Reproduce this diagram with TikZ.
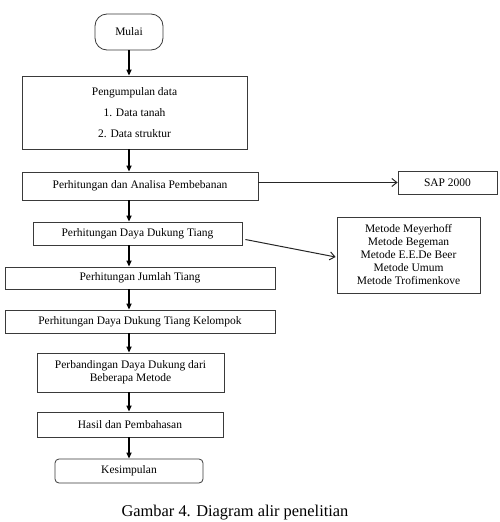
\documentclass[tikz,border=0pt]{standalone}
\usepackage{fontspec}
\setmainfont{Liberation Serif}
\usetikzlibrary{arrows.meta, positioning, calc}
\definecolor{edge}{HTML}{3A3A3A}
\tikzset{
  block/.style={rectangle, draw=edge, line width=0.8pt, fill=white,
                align=center, inner sep=0pt,
                font=\fontsize{11.5}{13}\selectfont},
  terminal/.style={block, rounded corners=12pt},
  endbox/.style={block, rounded corners=4pt},
  flow/.style={-{Triangle[length=6pt,width=5pt]}, line width=2pt, draw=black},
  side/.style={-{Straight Barb[length=5pt,width=8pt]}, line width=1pt, draw=black!85},
}

\begin{document}
\begin{tikzpicture}[x=1pt, y=-1pt]   %% one unit = one pixel of the page

  \useasboundingbox (0,0) rectangle (499,522);

  %% ── Main column ──────────────────────────────────────────────────────────
  \node[terminal, minimum width=68pt,  minimum height=36pt] (mulai)    at (129,32)    {Mulai};
  \node[block,    minimum width=225pt, minimum height=73pt,
        font=\fontsize{11.5}{21}\selectfont]               (data)     at (134.5,112.5) {Pengumpulan data\\1. Data tanah\\2. Data struktur};
  \node[block,    minimum width=236pt, minimum height=28pt] (beban)    at (140,186)   {Perhitungan dan Analisa Pembebanan};
  \node[block,    minimum width=209pt, minimum height=23pt] (daya)     at (137.5,233.5) {Perhitungan Daya Dukung Tiang};
  \node[block,    minimum width=270pt, minimum height=22pt] (jumlah)   at (140,278)   {Perhitungan Jumlah Tiang};
  \node[block,    minimum width=270pt, minimum height=23pt] (kelompok) at (140,321.5) {Perhitungan Daya Dukung Tiang Kelompok};
  \node[block,    minimum width=187pt, minimum height=39pt] (banding)  at (130.5,372.5) {Perbandingan Daya Dukung dari\\Beberapa Metode};
  \node[block,    minimum width=186pt, minimum height=25pt] (hasil)    at (130,424.5) {Hasil dan Pembahasan};
  \node[endbox,   minimum width=148pt, minimum height=24pt] (simpul)   at (129,471)   {Kesimpulan};

  %% ── Side boxes ───────────────────────────────────────────────────────────
  \node[block, minimum width=99pt,  minimum height=23pt] (sap)    at (447.5,182.5) {SAP 2000};
  \node[block, minimum width=143pt, minimum height=76pt] (metode) at (408.5,255)
       {Metode Meyerhoff\\Metode Begeman\\Metode E.E.De Beer\\Metode Umum\\Metode Trofimenkove};

  %% ── Flow arrows (all on the x of Mulai) ──────────────────────────────────
  \draw[flow] (mulai) -- (mulai |- data.north);
  \draw[flow] (data.south -| mulai)     -- (mulai |- beban.north);
  \draw[flow] (beban.south -| mulai)    -- (mulai |- daya.north);
  \draw[flow] (daya.south -| mulai)     -- (mulai |- jumlah.north);
  \draw[flow] (jumlah.south -| mulai)   -- (mulai |- kelompok.north);
  \draw[flow] (kelompok.south -| mulai) -- (mulai |- banding.north);
  \draw[flow] (banding.south -| mulai)  -- (mulai |- hasil.north);
  \draw[flow] (hasil.south -| mulai)    -- (simpul);

  %% ── Side arrows ──────────────────────────────────────────────────────────
  \draw[side] (sap.west -| beban.east) -- (sap.west);
  \draw[side] ($(daya.east)+(3,6)$) -- ($(metode.west)+(-1,2)$);

  %% ── Caption ──────────────────────────────────────────────────────────────
  \node[font=\fontsize{16.4}{18}\selectfont, anchor=base] (judul) at (235,516.5)
       {Gambar 4. Diagram alir penelitian};

\end{tikzpicture}
\end{document}
